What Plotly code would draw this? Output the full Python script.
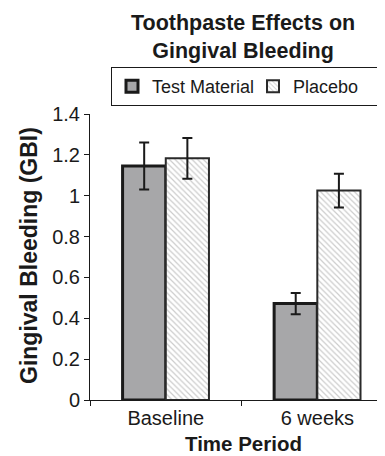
import plotly.graph_objects as go

categories = ["Baseline", "6 weeks"]
test_values = [1.145, 0.472]
test_errors = [0.115, 0.052]
placebo_values = [1.183, 1.025]
placebo_errors = [0.10, 0.083]
y_ticks = [0, 0.2, 0.4, 0.6, 0.8, 1, 1.2, 1.4]
y_tick_labels = ["0", "0.2", "0.4", "0.6", "0.8", "1", "1.2", "1.4"]

FONT = "Liberation Sans, Arial, sans-serif"
INK = "#1a1a1a"
# the page body has an 8px margin, so the figure is drawn 8px in from the top-left corner
OFF = 8
W, H = 385 - OFF, 456 - OFF
L, R, T, B = 90 - OFF, 1, 114 - OFF, 56
PW, PH = W - L - R, H - T - B


def px_x(x):
    return (x - OFF - L) / PW


def px_y(y):
    return (H - B - (y - OFF)) / PH


fig = go.Figure()
fig.add_trace(go.Bar(
    name="Test Material", x=categories, y=test_values,
    marker=dict(color="#a7a7a9", line=dict(color=INK, width=3)),
    error_y=dict(type="data", array=test_errors, color=INK, thickness=2, width=5),
))
fig.add_trace(go.Bar(
    name="Placebo", x=categories, y=placebo_values,
    marker=dict(color="white", line=dict(color="#2a2a2a", width=2),
                pattern=dict(shape="\\", fgcolor="#9a9a9a", bgcolor="white", size=4, solidity=0.3)),
    error_y=dict(type="data", array=placebo_errors, color=INK, thickness=2, width=5),
))

fig.update_layout(
    width=W, height=H,
    margin=dict(l=L, r=R, t=T, b=B, autoexpand=False),
    paper_bgcolor="white", plot_bgcolor="white",
    barmode="group", bargap=0.43, bargroupgap=0,
    font=dict(family=FONT, size=20, color=INK),
    showlegend=True,
    legend=dict(orientation="h", x=px_x(395), xanchor="right", y=px_y(67), yanchor="top",
                bordercolor=INK, borderwidth=1, bgcolor="white",
                font=dict(family=FONT, size=18, color=INK),
                itemwidth=30, entrywidth=96, entrywidthmode="pixels", traceorder="normal"),
    xaxis=dict(range=[-0.5, 1.44], showline=True, linecolor=INK, linewidth=1,
               ticks="outside", tickson="boundaries", ticklen=5, tickcolor=INK,
               showgrid=False, tickfont=dict(family=FONT, size=20, color=INK)),
    yaxis=dict(range=[0, 1.4], tickvals=y_ticks, ticktext=y_tick_labels,
               showline=True, linecolor=INK, linewidth=1,
               ticks="outside", ticklen=5, tickcolor=INK, showgrid=False,
               zeroline=False, tickfont=dict(family=FONT, size=20, color=INK)),
    annotations=[
        dict(text="<b>Toothpaste Effects on<br>Gingival Bleeding</b>", xref="paper", yref="paper",
             x=px_x(243), y=px_y(37), xanchor="center", yanchor="middle",
             showarrow=False, font=dict(family=FONT, size=21.5, color=INK)),
        dict(text="<b>Gingival Bleeding (GBI)</b>", xref="paper", yref="paper",
             x=px_x(29), y=px_y(256), xanchor="center", yanchor="middle",
             textangle=-90, showarrow=False, font=dict(family=FONT, size=23, color=INK)),
        dict(text="<b>Time Period</b>", xref="paper", yref="paper",
             x=px_x(243), y=px_y(443), xanchor="center", yanchor="middle",
             showarrow=False, font=dict(family=FONT, size=20.5, color=INK)),
    ],
)

fig.write_html("out.html")
